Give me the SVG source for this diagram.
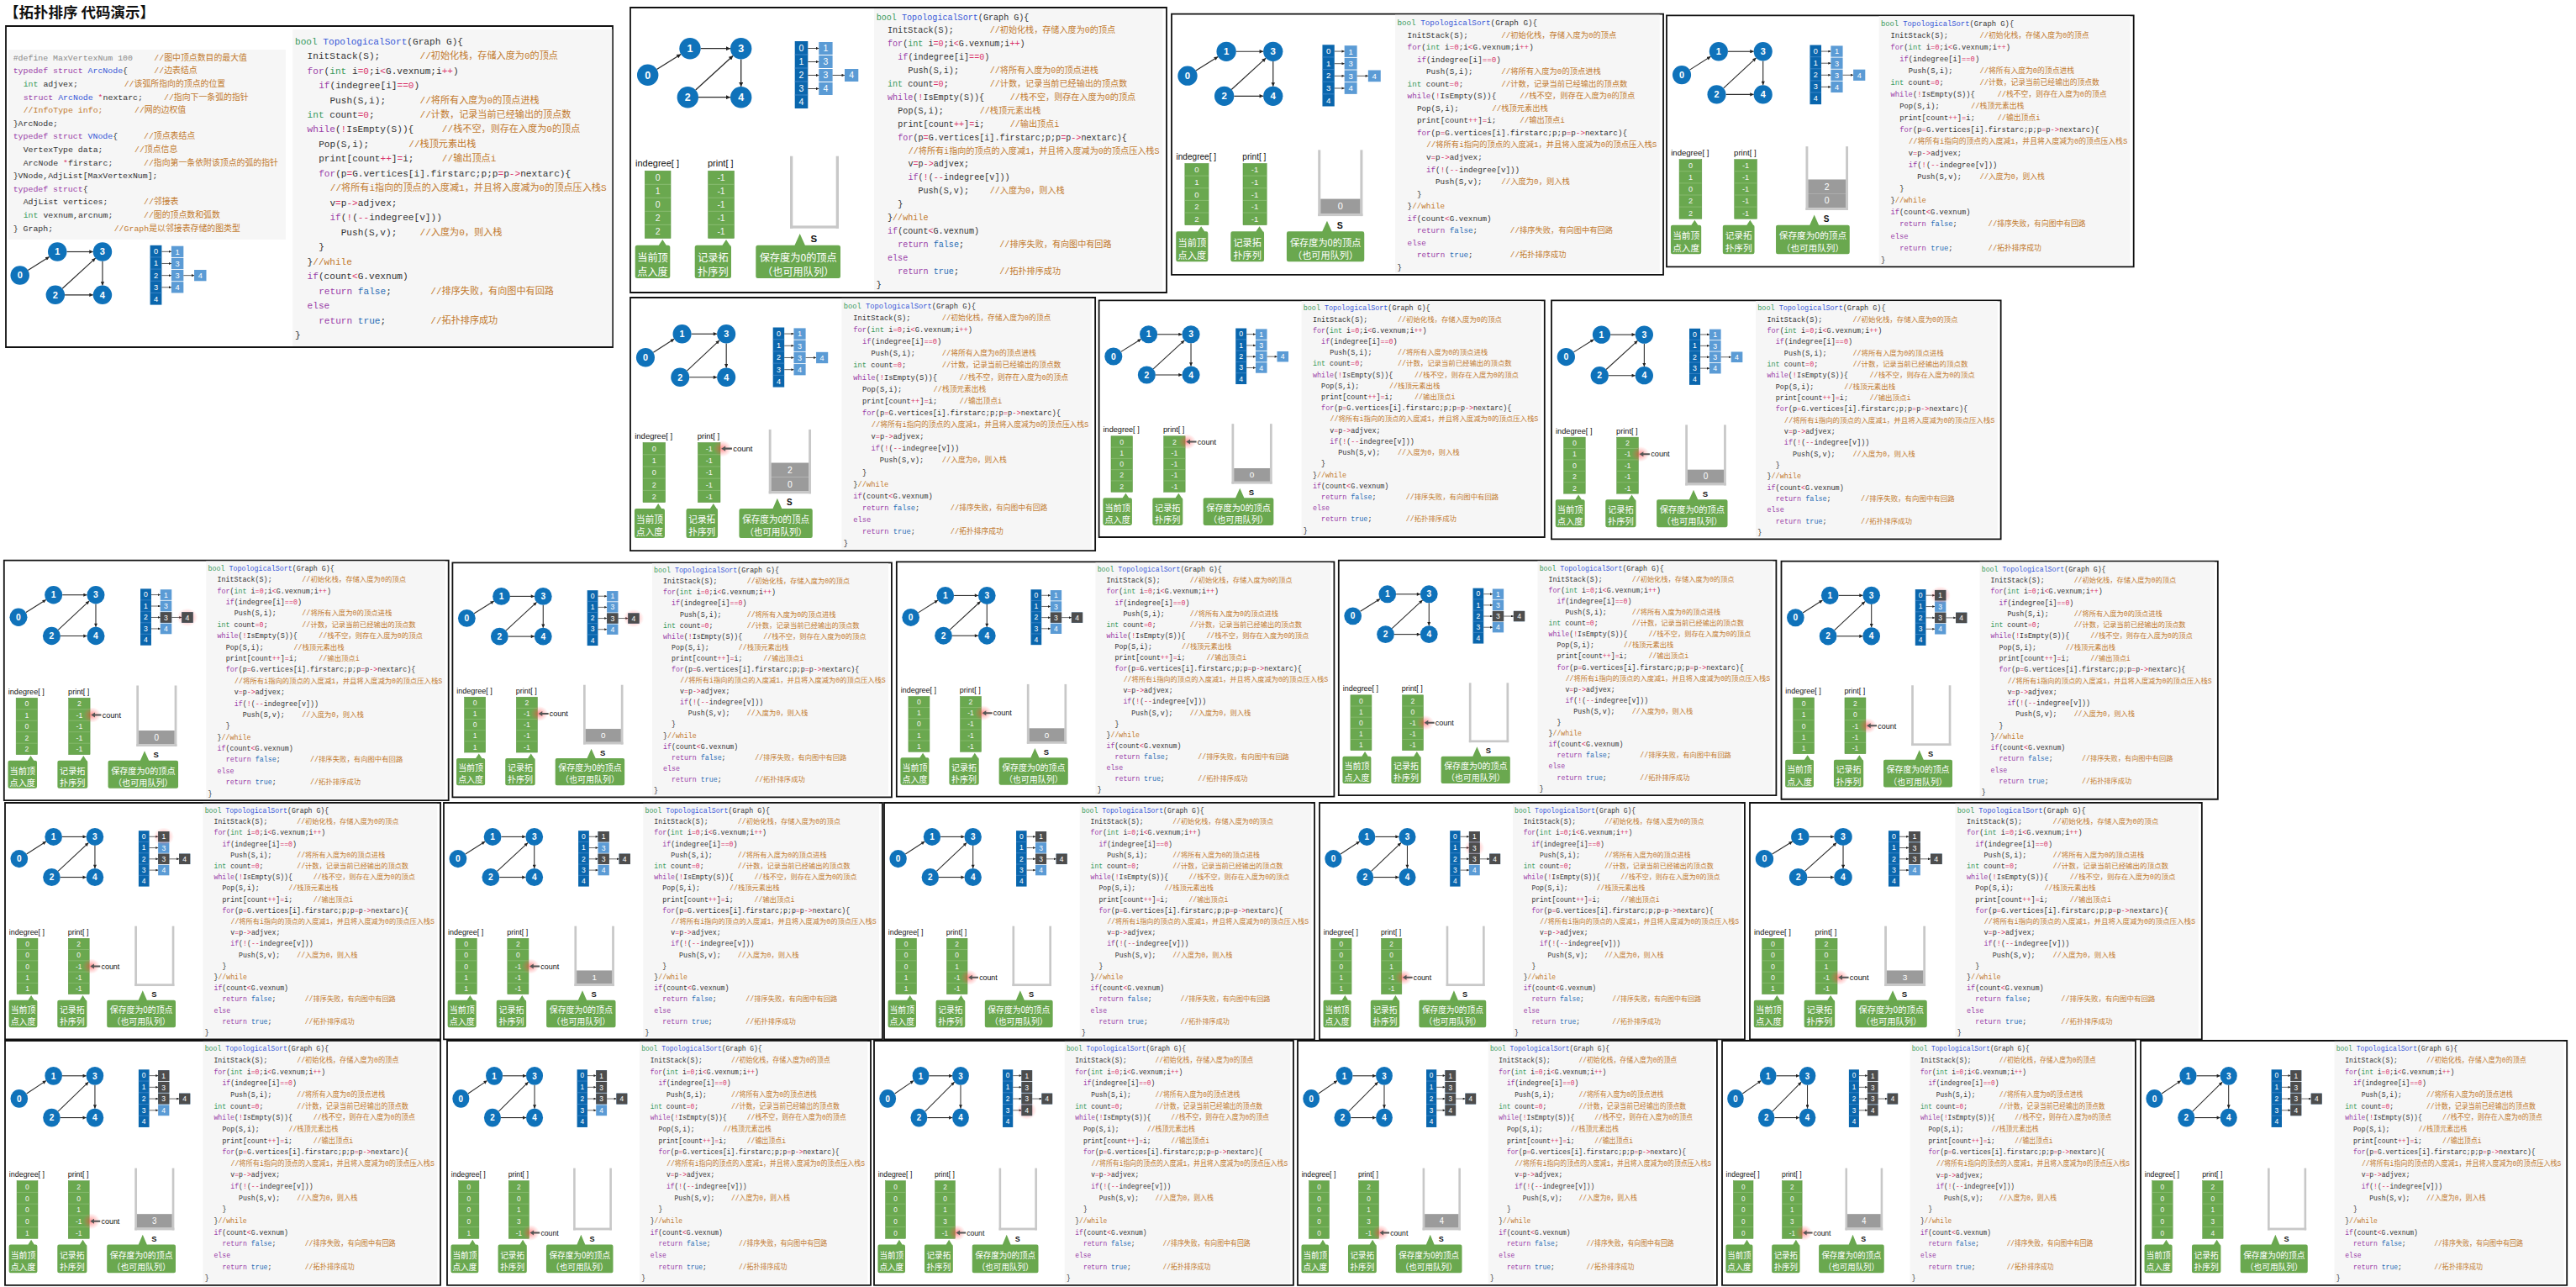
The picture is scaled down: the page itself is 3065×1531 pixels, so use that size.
<svg xmlns="http://www.w3.org/2000/svg" width="3065" height="1531" viewBox="0 0 3065 1531">
<style>
.mono{font-family:"Liberation Mono","Noto Sans CJK SC",monospace;font-size:10.1px;fill:#333;}
.cm{fill:#c27a2e;}
.kw{fill:#9a3ea8;}
.ty{fill:#3a9a5c;}
.fn{fill:#3656d6;}
.op{fill:#d9346a;}
.bl{fill:#2a6db5;}
.gr{fill:#8a8a8a;}
.frame{fill:#fff;stroke:#111;stroke-width:1.8;vector-effect:non-scaling-stroke;}
.nd{fill:#0f72ba;}
.nl{font-family:"Liberation Sans",Arial,sans-serif;font-size:12.5px;font-weight:bold;fill:#fff;text-anchor:middle;}
.ed{stroke:#2a2a2a;stroke-width:1.3;fill:none;marker-end:url(#ah);}
.ae{stroke:#333;stroke-width:0.9;fill:none;marker-end:url(#ahs);}
.vc{fill:#0a66ad;}
.ec{fill:#5b9bd5;}
.dk{fill:#4d4d4d;}
.cl{font-family:"Liberation Sans",Arial,sans-serif;font-size:10.5px;fill:#fff;text-anchor:middle;}
.gc{fill:#6aa84f;stroke:#5a9440;stroke-width:0.6;}
.sep{stroke:#93c27b;stroke-width:0.8;fill:none;}
.cv{font-family:"Liberation Sans",Arial,sans-serif;font-size:10.5px;fill:#f4f4f4;text-anchor:middle;}
.lbl{font-family:"Liberation Sans",Arial,sans-serif;font-size:11px;fill:#111;}
.co{fill:#6aa84f;}
.ct{font-family:"Noto Sans CJK SC",sans-serif;font-size:12.2px;fill:#fff;text-anchor:middle;}
.wall{fill:#c8c8c8;}
.sk{fill:#9b9b9b;}
.skt{font-family:"Liberation Sans",Arial,sans-serif;font-size:12px;fill:#fff;text-anchor:middle;}
.cbg{fill:#f6f6f6;}
.ttl{font-family:"Noto Sans CJK SC",sans-serif;font-size:17.5px;font-weight:bold;fill:#111;}
</style>
<defs>
<marker id="ah" viewBox="0 0 10 10" refX="10" refY="5" markerWidth="6" markerHeight="5" orient="auto" markerUnits="userSpaceOnUse"><path d="M0,0 L10,5 L0,10 Z" fill="#222"/></marker>
<marker id="ahs" viewBox="0 0 10 10" refX="10" refY="5" markerWidth="4" markerHeight="3.5" orient="auto" markerUnits="userSpaceOnUse"><path d="M0,0 L10,5 L0,10 Z" fill="#222"/></marker>
<radialGradient id="glow"><stop offset="0" stop-color="#ff3030" stop-opacity="0.55"/><stop offset="0.55" stop-color="#ff5050" stop-opacity="0.25"/><stop offset="1" stop-color="#ff6060" stop-opacity="0"/></radialGradient>

<g id="code" class="mono" xml:space="preserve">
<text x="292.7" y="14.5"><tspan class="ty">bool</tspan> <tspan class="fn">TopologicalSort</tspan>(Graph G){</text>
<text x="306" y="30.4">InitStack(S);</text>
<text class="cm" x="427.7" y="30.4">//初始化栈，存储入度为0的顶点</text>
<text x="306" y="46.3"><tspan class="kw">for</tspan>(<tspan class="ty">int</tspan> i<tspan class="op">=0</tspan>;i<tspan class="op">&lt;</tspan>G.vexnum;i<tspan class="op">++</tspan>)</text>
<text x="318.3" y="62.2"><tspan class="kw">if</tspan>(indegree[i]<tspan class="op">==0</tspan>)</text>
<text x="330.4" y="78.1">Push(S,i);</text>
<text class="cm" x="427.7" y="78.1">//将所有入度为0的顶点进栈</text>
<text x="306" y="94"><tspan class="ty">int</tspan> count<tspan class="op">=0</tspan>;</text>
<text class="cm" x="427.7" y="94">//计数，记录当前已经输出的顶点数</text>
<text x="306" y="109.9"><tspan class="kw">while</tspan>(<tspan class="op">!</tspan>IsEmpty(S)){</text>
<text class="cm" x="451.7" y="109.9">//栈不空，则存在入度为0的顶点</text>
<text x="318.3" y="125.8">Pop(S,i);</text>
<text class="cm" x="415.7" y="125.8">//栈顶元素出栈</text>
<text x="318.3" y="141.7">print[count<tspan class="op">++</tspan>]<tspan class="op">=</tspan>i;</text>
<text class="cm" x="451.7" y="141.7">//输出顶点i</text>
<text x="318.3" y="157.6"><tspan class="kw">for</tspan>(p<tspan class="op">=</tspan>G.vertices[i].firstarc;p;p<tspan class="op">=</tspan>p<tspan class="op">-&gt;</tspan>nextarc){</text>
<text class="cm" x="330.7" y="173.5">//将所有i指向的顶点的入度减1，并且将入度减为0的顶点压入栈S</text>
<text x="330.4" y="189.4">v<tspan class="op">=</tspan>p<tspan class="op">-&gt;</tspan>adjvex;</text>
<text x="330.4" y="205.3"><tspan class="kw">if</tspan>(<tspan class="op">!</tspan>(<tspan class="op">--</tspan>indegree[v]))</text>
<text x="342.4" y="221.2">Push(S,v);</text>
<text class="cm" x="427.7" y="221.2">//入度为0，则入栈</text>
<text x="318.3" y="237.1">}</text>
<text x="306" y="253">}<tspan class="cm">//while</tspan></text>
<text x="306" y="268.9"><tspan class="kw">if</tspan>(count<tspan class="op">&lt;</tspan>G.vexnum)</text>
<text x="318.3" y="284.8"><tspan class="kw">return</tspan>  <tspan class="bl">false</tspan>;</text>
<text class="cm" x="439.3" y="284.8">//排序失败，有向图中有回路</text>
<text x="306" y="300.7"><tspan class="kw">else</tspan></text>
<text x="318.3" y="316.6"><tspan class="kw">return</tspan>  <tspan class="bl">true</tspan>;</text>
<text class="cm" x="439.3" y="316.6">//拓扑排序成功</text>
<text x="292.7" y="332.5">}</text>
</g>

<g id="graph">
<g id="edges">
<path class="ed" d="M31.5,73.5 L60.2,55.5"/>
<path class="ed" d="M83.7,48.7 L119,48.7"/>
<path class="ed" d="M77.7,98.1 L122.3,57.3"/>
<path class="ed" d="M131.7,61.4 L131.7,94"/>
<path class="ed" d="M81,106.7 L119,106.7"/>
</g>
<g id="v0"><circle class="nd" cx="20.7" cy="80.3" r="12.7"/><text class="nl" x="20.7" y="84.7">0</text></g>
<g id="v1"><circle class="nd" cx="71" cy="48.7" r="12.7"/><text class="nl" x="71" y="53.1">1</text></g>
<g id="v2"><circle class="nd" cx="68.3" cy="106.7" r="12.7"/><text class="nl" x="68.3" y="111.1">2</text></g>
<g id="v3"><circle class="nd" cx="131.7" cy="48.7" r="12.7"/><text class="nl" x="131.7" y="53.1">3</text></g>
<g id="v4"><circle class="nd" cx="131.7" cy="106.7" r="12.7"/><text class="nl" x="131.7" y="111.1">4</text></g>
</g>

<g id="adj">
<rect class="vc" x="195.7" y="40" width="15.6" height="80"/>
<path d="M195.7,56h15.6M195.7,72h15.6M195.7,88h15.6M195.7,104h15.6" stroke="#4a8fd0" stroke-width="0.8"/>
<text class="cl" x="203.5" y="51.8">0</text><text class="cl" x="203.5" y="67.8">1</text><text class="cl" x="203.5" y="83.8">2</text><text class="cl" x="203.5" y="99.8">3</text><text class="cl" x="203.5" y="115.8">4</text>
<rect class="ec" x="224.3" y="41" width="16.3" height="15"/>
<rect class="ec" x="224.3" y="57" width="16.3" height="15"/>
<rect class="ec" x="224.3" y="73" width="16.3" height="15"/>
<rect class="ec" x="224.3" y="89" width="16.3" height="15"/>
<rect class="ec" x="255" y="73" width="16.3" height="15"/>
<text class="cl" x="232.45" y="52.3">1</text><text class="cl" x="232.45" y="68.3">3</text><text class="cl" x="232.45" y="84.3">3</text><text class="cl" x="232.45" y="100.3">4</text><text class="cl" x="263.15" y="84.3">4</text>
<path class="ae" d="M211.3,48.5H224.3"/>
<path class="ae" d="M211.3,64.5H224.3"/>
<path class="ae" d="M211.3,80.5H224.3"/>
<path class="ae" d="M211.3,96.5H224.3"/>
<path class="ae" d="M240.6,80.5H255"/>
</g>

<g id="tpl">
<rect class="frame" x="0" y="0" width="638" height="339"/>
<rect class="cbg" x="290" y="1" width="343.3" height="335.5"/>
<use href="#code"/>
<use href="#graph"/>
<use href="#adj"/>
<text class="lbl" x="6" y="189">indegree[ ]</text>
<text class="lbl" x="92" y="189">print[ ]</text>
<rect class="gc" x="17.3" y="194.3" width="30.7" height="80"/>
<path class="sep" d="M17.3,210.3h30.7M17.3,226.3h30.7M17.3,242.3h30.7M17.3,258.3h30.7"/>
<rect class="gc" x="92.7" y="194.3" width="30.7" height="80"/>
<path class="sep" d="M92.7,210.3h30.7M92.7,226.3h30.7M92.7,242.3h30.7M92.7,258.3h30.7"/>
<rect class="wall" x="190" y="176.7" width="3.3" height="86"/>
<rect class="wall" x="244.7" y="176.7" width="3.3" height="86"/>
<rect class="wall" x="190" y="259.4" width="58" height="3.3"/>
<text x="218.3" y="278.6" style="font-family:'Liberation Sans',Arial,sans-serif;font-size:11.5px;font-weight:bold;fill:#111;text-anchor:middle">S</text>
<path class="co" d="M8.2,282.7H33.8L38.3,276L42.8,282.7H44.8Q47.3,282.7 47.3,285.2V319.5Q47.3,322 44.8,322H8.2Q5.7,322 5.7,319.5V285.2Q5.7,282.7 8.2,282.7Z"/>
<path class="co" d="M79.2,282.7H109.5L114,276L118.5,282.7Q120,282.7 120,285.2V319.5Q120,322 117.5,322H79.2Q76.7,322 76.7,319.5V285.2Q76.7,282.7 79.2,282.7Z"/>
<path class="co" d="M151.8,282.7H195.5L201.7,269L207.9,282.7H247.5Q250,282.7 250,285.2V319.5Q250,322 247.5,322H151.8Q149.3,322 149.3,319.5V285.2Q149.3,282.7 151.8,282.7Z"/>
<text class="ct" x="26.5" y="301.5">当前顶</text><text class="ct" x="26.5" y="318.5">点入度</text>
<text class="ct" x="98.3" y="301.5">记录拓</text><text class="ct" x="98.3" y="318.5">扑序列</text>
<text class="ct" x="199.7" y="301.5">保存度为0的顶点</text><text class="ct" x="199.7" y="318.5">（也可用队列）</text>
</g>

<g id="ind0" class="cv"><text x="32.65" y="206.1">0</text><text x="32.65" y="222.1">1</text><text x="32.65" y="238.1">0</text><text x="32.65" y="254.1">2</text><text x="32.65" y="270.1">2</text></g>
<g id="ind1" class="cv"><text x="32.65" y="206.1">0</text><text x="32.65" y="222.1">1</text><text x="32.65" y="238.1">0</text><text x="32.65" y="254.1">1</text><text x="32.65" y="270.1">1</text></g>
<g id="ind2" class="cv"><text x="32.65" y="206.1">0</text><text x="32.65" y="222.1">0</text><text x="32.65" y="238.1">0</text><text x="32.65" y="254.1">1</text><text x="32.65" y="270.1">1</text></g>
<g id="ind3" class="cv"><text x="32.65" y="206.1">0</text><text x="32.65" y="222.1">0</text><text x="32.65" y="238.1">0</text><text x="32.65" y="254.1">0</text><text x="32.65" y="270.1">1</text></g>
<g id="ind4" class="cv"><text x="32.65" y="206.1">0</text><text x="32.65" y="222.1">0</text><text x="32.65" y="238.1">0</text><text x="32.65" y="254.1">0</text><text x="32.65" y="270.1">0</text></g>
<g id="pr0" class="cv"><text x="108.05" y="206.1">-1</text><text x="108.05" y="222.1">-1</text><text x="108.05" y="238.1">-1</text><text x="108.05" y="254.1">-1</text><text x="108.05" y="270.1">-1</text></g>
<g id="pr1" class="cv"><text x="108.05" y="206.1">2</text><text x="108.05" y="222.1">-1</text><text x="108.05" y="238.1">-1</text><text x="108.05" y="254.1">-1</text><text x="108.05" y="270.1">-1</text></g>
<g id="pr2" class="cv"><text x="108.05" y="206.1">2</text><text x="108.05" y="222.1">0</text><text x="108.05" y="238.1">-1</text><text x="108.05" y="254.1">-1</text><text x="108.05" y="270.1">-1</text></g>
<g id="pr3" class="cv"><text x="108.05" y="206.1">2</text><text x="108.05" y="222.1">0</text><text x="108.05" y="238.1">1</text><text x="108.05" y="254.1">-1</text><text x="108.05" y="270.1">-1</text></g>
<g id="pr4" class="cv"><text x="108.05" y="206.1">2</text><text x="108.05" y="222.1">0</text><text x="108.05" y="238.1">1</text><text x="108.05" y="254.1">3</text><text x="108.05" y="270.1">-1</text></g>
<g id="pr5" class="cv"><text x="108.05" y="206.1">2</text><text x="108.05" y="222.1">0</text><text x="108.05" y="238.1">1</text><text x="108.05" y="254.1">3</text><text x="108.05" y="270.1">4</text></g>

<g id="cnt">
<ellipse cx="126" cy="202.3" rx="13" ry="11" fill="url(#glow)"/>
<path d="M124.8,202.3L130.5,198.7V201.1H139.5V203.5H130.5V205.9Z" fill="#555"/>
<text class="lbl" x="141" y="206.2">count</text>
</g>
<rect id="s0" class="sk" x="193.3" y="240.3" width="51.4" height="19"/>
<rect id="s1" class="sk" x="193.3" y="221.3" width="51.4" height="19"/>
<ellipse id="g01" cx="232.45" cy="48.5" rx="15" ry="13" fill="url(#glow)"/>
<ellipse id="g11" cx="232.45" cy="64.5" rx="15" ry="13" fill="url(#glow)"/>
<ellipse id="g22" cx="263.15" cy="80.5" rx="15" ry="13" fill="url(#glow)"/>
<ellipse id="g31" cx="232.45" cy="96.5" rx="15" ry="13" fill="url(#glow)"/>
<g id="h01"><rect class="dk" x="224.3" y="41" width="16.3" height="15"/><text class="cl" x="232.45" y="52.3">1</text></g>
<g id="h11"><rect class="dk" x="224.3" y="57" width="16.3" height="15"/><text class="cl" x="232.45" y="68.3">3</text></g>
<g id="h21"><rect class="dk" x="224.3" y="73" width="16.3" height="15"/><text class="cl" x="232.45" y="84.3">3</text></g>
<g id="h22"><rect class="dk" x="255" y="73" width="16.3" height="15"/><text class="cl" x="263.15" y="84.3">4</text></g>
<g id="h31"><rect class="dk" x="224.3" y="89" width="16.3" height="15"/><text class="cl" x="232.45" y="100.3">4</text></g>
</defs>

<rect width="3065" height="1531" fill="#fff"/>
<text class="ttl" x="5" y="20.5">【拓扑排序 代码演示】</text>

<g id="intro">
<rect class="frame" x="7" y="31" width="722" height="382"/>
<rect class="cbg" x="10" y="59" width="330" height="226"/>
<g class="mono" style="font-size:9.9px" xml:space="preserve">
<text x="15.7" y="71.8"><tspan class="gr">#define MaxVertexNum 100</tspan></text>
<text class="cm" x="183.3" y="71.8">//图中顶点数目的最大值</text>
<text x="15.7" y="87.4"><tspan class="kw">typedef struct</tspan> <tspan class="fn">ArcNode</tspan>{</text>
<text class="cm" x="183.3" y="87.4">//边表结点</text>
<text x="27.7" y="103"><tspan class="ty">int</tspan> adjvex;</text>
<text class="cm" x="147.7" y="103">//该弧所指向的顶点的位置</text>
<text x="27.7" y="118.6"><tspan class="kw">struct</tspan> <tspan class="fn">ArcNode</tspan> <tspan class="op">*</tspan>nextarc;</text>
<text class="cm" x="195" y="118.6">//指向下一条弧的指针</text>
<text class="cm" x="27.7" y="134.2">//InfoType info;</text>
<text class="cm" x="160" y="134.2">//网的边权值</text>
<text x="15.7" y="149.8">}ArcNode;</text>
<text x="15.7" y="165.4"><tspan class="kw">typedef struct</tspan> <tspan class="fn">VNode</tspan>{</text>
<text class="cm" x="171" y="165.4">//顶点表结点</text>
<text x="27.7" y="181">VertexType data;</text>
<text class="cm" x="160" y="181">//顶点信息</text>
<text x="27.7" y="196.6">ArcNode <tspan class="op">*</tspan>firstarc;</text>
<text class="cm" x="171" y="196.6">//指向第一条依附该顶点的弧的指针</text>
<text x="15.7" y="212.2">}VNode,AdjList[MaxVertexNum];</text>
<text x="15.7" y="227.8"><tspan class="kw">typedef struct</tspan>{</text>
<text x="27.7" y="243.4">AdjList vertices;</text>
<text class="cm" x="171" y="243.4">//邻接表</text>
<text x="27.7" y="259"><tspan class="ty">int</tspan> vexnum,arcnum;</text>
<text class="cm" x="171" y="259">//图的顶点数和弧数</text>
<text x="15.7" y="274.6">} Graph;</text>
<text class="cm" x="135.7" y="274.6">//Graph是以邻接表存储的图类型</text>
</g>
<rect class="cbg" x="348.3" y="35" width="380" height="377"/>
<use href="#code" transform="translate(29,36.6) scale(1.1)"/>
<g transform="translate(5.4,256.4) scale(0.885)"><use href="#graph"/><use href="#adj"/></g>
</g>

<g id="step01" transform="translate(750,9) scale(1,1)"><use href="#tpl"/><use href="#ind0"/><use href="#pr0"/></g>
<g id="step02" transform="translate(1394,16.7) scale(0.917,0.915)"><use href="#tpl"/><use href="#ind0"/><use href="#pr0"/><use href="#s0"/><text class="skt" x="219" y="254.1">0</text></g>
<g id="step03" transform="translate(1983,18.3) scale(0.871,0.882)"><use href="#tpl"/><use href="#ind0"/><use href="#pr0"/><use href="#s0"/><use href="#s1"/><text class="skt" x="219" y="254.1">0</text><text class="skt" x="219" y="235.1">2</text></g>
<g id="step04" transform="translate(750,354) scale(0.867,0.888)"><use href="#tpl"/><use href="#ind0"/><use href="#pr0"/><use href="#cnt"/><use href="#s0"/><use href="#s1"/><text class="skt" x="219" y="254.1">0</text><text class="skt" x="219" y="235.1">2</text></g>
<g id="step05" transform="translate(1307.6,357.3) scale(0.831,0.831)"><use href="#tpl"/><use href="#ind0"/><use href="#pr1"/><use href="#cnt"/><use href="#s0"/><text class="skt" x="219" y="254.1">0</text></g>
<g id="step06" transform="translate(1846,357.3) scale(0.838,0.838)"><use href="#tpl"/><use href="#ind0"/><use href="#pr1"/><use href="#cnt" y="16"/><use href="#s0"/><text class="skt" x="219" y="254.1">0</text></g>

<g id="step07" transform="translate(4.8,666.7) scale(0.829,0.842)"><use href="#tpl"/><use href="#ind0"/><use href="#pr1"/><use href="#cnt" y="16"/><use href="#s0"/><text class="skt" x="219" y="254.1">0</text><use href="#g22"/><use href="#h21"/><use href="#h22"/></g>
<g id="step08" transform="translate(538.4,669.3) scale(0.819,0.823)"><use href="#tpl"/><use href="#ind1"/><use href="#pr1"/><use href="#cnt" y="16"/><use href="#s0"/><text class="skt" x="219" y="254.1">0</text><use href="#g22"/><use href="#h21"/><use href="#h22"/></g>
<g id="step09" transform="translate(1066.8,668.3) scale(0.816,0.824)"><use href="#tpl"/><use href="#ind1"/><use href="#pr1"/><use href="#cnt" y="16"/><use href="#s0"/><text class="skt" x="219" y="254.1">0</text><use href="#h21"/><use href="#h22"/></g>
<g id="step10" transform="translate(1592.8,666.7) scale(0.816,0.824)"><use href="#tpl"/><use href="#ind1"/><use href="#pr2"/><use href="#cnt" y="32"/><use href="#h21"/><use href="#h22"/></g>
<g id="step11" transform="translate(2119.5,667.7) scale(0.814,0.835)"><use href="#tpl"/><use href="#ind1"/><use href="#pr2"/><use href="#cnt" y="32"/><use href="#g01"/><use href="#h01"/><use href="#h21"/><use href="#h22"/></g>

<g id="step12" transform="translate(6,955) scale(0.812,0.83)"><use href="#tpl"/><use href="#ind2"/><use href="#pr2"/><use href="#cnt" y="32"/><use href="#g01"/><use href="#h01"/><use href="#h21"/><use href="#h22"/></g>
<g id="step13" transform="translate(528,955) scale(0.818,0.83)"><use href="#tpl"/><use href="#ind2"/><use href="#pr2"/><use href="#cnt" y="32"/><use href="#s0"/><text class="skt" x="219" y="254.1">1</text><use href="#h01"/><use href="#h21"/><use href="#h22"/></g>
<g id="step14" transform="translate(1052,955) scale(0.8025,0.83)"><use href="#tpl"/><use href="#ind2"/><use href="#pr3"/><use href="#cnt" y="48"/><use href="#h01"/><use href="#h21"/><use href="#h22"/></g>
<g id="step15" transform="translate(1570,955) scale(0.793,0.83)"><use href="#tpl"/><use href="#ind2"/><use href="#pr3"/><use href="#cnt" y="48"/><use href="#g11"/><use href="#h01"/><use href="#h11"/><use href="#h21"/><use href="#h22"/></g>
<g id="step16" transform="translate(2082,955) scale(0.843,0.83)"><use href="#tpl"/><use href="#ind3"/><use href="#pr3"/><use href="#cnt" y="48"/><use href="#s0"/><text class="skt" x="219" y="254.1">3</text><use href="#h01"/><use href="#h11"/><use href="#h21"/><use href="#h22"/></g>

<g id="step17" transform="translate(6,1238) scale(0.812,0.858)"><use href="#tpl"/><use href="#ind3"/><use href="#pr3"/><use href="#cnt" y="48"/><use href="#s0"/><text class="skt" x="219" y="254.1">3</text><use href="#h01"/><use href="#h11"/><use href="#h21"/><use href="#h22"/></g>
<g id="step18" transform="translate(532,1238) scale(0.79,0.858)"><use href="#tpl"/><use href="#ind3"/><use href="#pr4"/><use href="#cnt" y="64"/><use href="#h01"/><use href="#h11"/><use href="#h21"/><use href="#h22"/></g>
<g id="step19" transform="translate(1040,1238) scale(0.782,0.858)"><use href="#tpl"/><use href="#ind4"/><use href="#pr4"/><use href="#cnt" y="64"/><use href="#g31"/><use href="#h01"/><use href="#h11"/><use href="#h21"/><use href="#h22"/><use href="#h31"/></g>
<g id="step20" transform="translate(1544,1238) scale(0.782,0.858)"><use href="#tpl"/><use href="#ind4"/><use href="#pr4"/><use href="#cnt" y="64"/><use href="#s0"/><text class="skt" x="219" y="254.1">4</text><use href="#h01"/><use href="#h11"/><use href="#h21"/><use href="#h22"/><use href="#h31"/></g>
<g id="step21" transform="translate(2049,1238) scale(0.771,0.858)"><use href="#tpl"/><use href="#ind4"/><use href="#pr4"/><use href="#cnt" y="64"/><use href="#s0"/><text class="skt" x="219" y="254.1">4</text><use href="#h01"/><use href="#h11"/><use href="#h21"/><use href="#h22"/><use href="#h31"/></g>
<g id="step22" transform="translate(2547,1238) scale(0.795,0.858)"><use href="#tpl"/><use href="#ind4"/><use href="#pr5"/><use href="#h01"/><use href="#h11"/><use href="#h21"/><use href="#h22"/><use href="#h31"/></g>
</svg>
